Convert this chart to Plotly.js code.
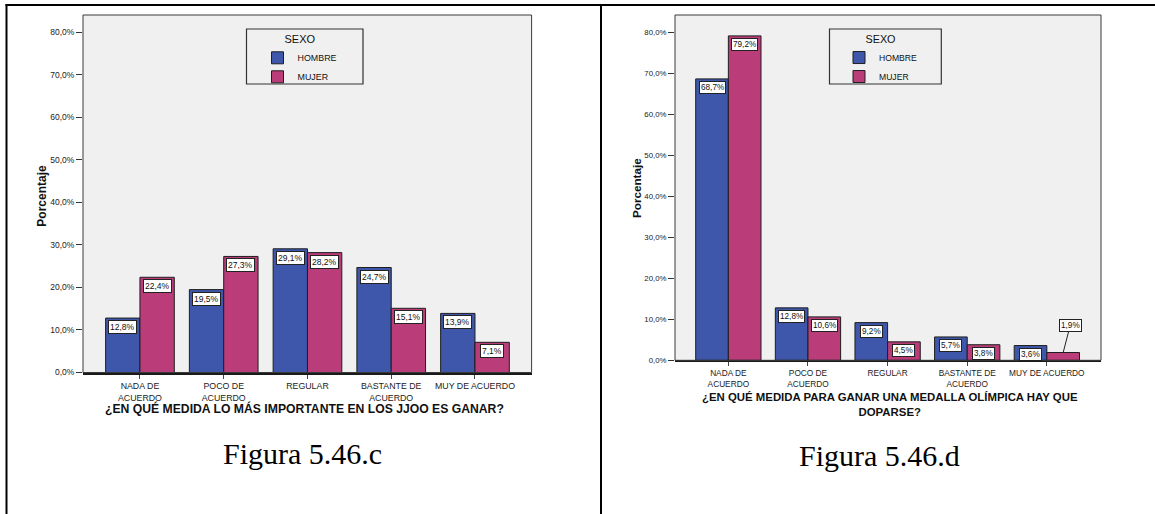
<!DOCTYPE html>
<html>
<head>
<meta charset="utf-8">
<script src="https://cdn.plot.ly/plotly-3.0.1.min.js"></script>
<style>
  html, body { margin: 0; padding: 0; background: #ffffff; }
  #chart { width: 1155px; height: 514px; }
</style>
</head>
<body>
<div id="chart"></div>
<script>
// ---- data ----
const categories = ['NADA DE ACUERDO', 'POCO DE ACUERDO', 'REGULAR', 'BASTANTE DE ACUERDO', 'MUY DE ACUERDO'];
const tickLabels = ['NADA DE<br>ACUERDO', 'POCO DE<br>ACUERDO', 'REGULAR', 'BASTANTE DE<br>ACUERDO', 'MUY DE ACUERDO'];
const seriesNames = ['HOMBRE', 'MUJER'];
const hombreC = [12.8, 19.5, 29.1, 24.7, 13.9];
const mujerC = [22.4, 27.3, 28.2, 15.1, 7.1];
const hombreD = [68.7, 12.8, 9.2, 5.7, 3.6];
const mujerD = [79.2, 10.6, 4.5, 3.8, 1.9];
const yTickVals = [0, 10, 20, 30, 40, 50, 60, 70, 80];
const legendTitle = 'SEXO';
const yTitle = 'Porcentaje';
const xTitleC = '¿EN QUÉ MEDIDA LO MÁS IMPORTANTE EN LOS JJOO ES GANAR?';
const xTitleD = '¿EN QUÉ MEDIDA PARA GANAR UNA MEDALLA OLÍMPICA HAY QUE<br>DOPARSE?';
const captionC = 'Figura 5.46.c';
const captionD = 'Figura 5.46.d';

// ---- styling ----
const W = 1155, H = 514;
const X = px => px / W;
const Y = py => 1 - py / H;
const colors = ['#3E57AB', '#BA3D7A'];
const FONT = 'Liberation Sans, Arial, sans-serif';
const pct = v => v.toFixed(1).replace('.', ',') + '%';
const BARGAP = 0.18;
const OFF = (1 - BARGAP) / 4;

function bars(vals, name, idx, xa, ya, legend) {
  return {
    type: 'bar', x: categories, y: vals, name: name,
    xaxis: xa, yaxis: ya, legend: legend,
    marker: { color: colors[idx], line: { color: '#1e1e1e', width: 1 } },
    hoverinfo: 'skip'
  };
}

const data = [
  bars(hombreC, seriesNames[0], 0, 'x', 'y', 'legend'),
  bars(mujerC, seriesNames[1], 1, 'x', 'y', 'legend'),
  bars(hombreD, seriesNames[0], 0, 'x2', 'y2', 'legend2'),
  bars(mujerD, seriesNames[1], 1, 'x2', 'y2', 'legend2')
];

function valueLabels(series, xr, yr, fs) {
  const out = [];
  series.forEach((vals, s) => {
    vals.forEach((v, i) => {
      const xpos = i + (s === 0 ? -OFF : OFF);
      const a = {
        xref: xr, yref: yr, x: xpos, y: v, text: pct(v), xanchor: 'center',
        font: { family: FONT, size: fs, color: '#111' },
        bgcolor: '#ffffff', bordercolor: '#222', borderwidth: 1, borderpad: 1
      };
      if (v < 2.5) {
        Object.assign(a, { showarrow: true, arrowhead: 0, arrowwidth: 1, arrowcolor: '#222', ax: 7, ay: -27 });
      } else {
        Object.assign(a, { showarrow: false, yanchor: 'top', yshift: -2 });
      }
      out.push(a);
    });
  });
  return out;
}

function txt(xpx, ypx, text, size, extra) {
  return Object.assign({
    xref: 'paper', yref: 'paper', x: X(xpx), y: Y(ypx), text: text, showarrow: false,
    xanchor: 'center', yanchor: 'middle',
    font: { family: FONT, size: size, weight: 'bold', color: '#111' }
  }, extra || {});
}

function yAxis(range, domain, anchor, fs) {
  return {
    domain: domain, anchor: anchor, range: range, fixedrange: true,
    tickvals: yTickVals, ticktext: yTickVals.map(pct),
    ticks: 'outside', ticklen: 6, tickcolor: '#333', tickwidth: 1,
    tickfont: { family: FONT, size: fs, color: '#222' },
    showgrid: false, zeroline: false, showline: false
  };
}
function xAxis(range, domain, anchor, fs) {
  return {
    domain: domain, anchor: anchor, range: range, type: 'category', fixedrange: true,
    tickvals: categories, ticktext: tickLabels,
    ticks: 'outside', ticklen: 4, tickcolor: '#444', tickwidth: 1,
    tickfont: { family: FONT, size: fs, color: '#222' },
    showgrid: false, zeroline: false, showline: true, linecolor: '#1a1a1a', linewidth: 2
  };
}

const serif = 'Liberation Serif, Times New Roman, serif';
const annotations = []
  .concat(valueLabels([hombreC, mujerC], 'x', 'y', 8.5))
  .concat(valueLabels([hombreD, mujerD], 'x2', 'y2', 8.2))
  .concat([
    txt(41.7, 196, yTitle, 12, { textangle: -90 }),
    txt(636, 188, yTitle, 11.7, { textangle: -90 }),
    txt(304, 408, xTitleC, 12.2),
    txt(890, 404.5, xTitleD, 11.4),
    txt(302.5, 453, captionC, 30, { font: { family: serif, size: 30, color: '#000' } }),
    txt(879.7, 455, captionD, 30, { font: { family: serif, size: 30, color: '#000' } })
  ]);

const shapes = [
  // plot frames
  { type: 'rect', xref: 'x domain', yref: 'y domain', x0: 0, x1: 1, y0: 0, y1: 1, line: { color: '#3a3a3a', width: 1 } },
  { type: 'rect', xref: 'x2 domain', yref: 'y2 domain', x0: 0, x1: 1, y0: 0, y1: 1, line: { color: '#3a3a3a', width: 1 } },
  // legend boxes
  { type: 'rect', xref: 'paper', yref: 'paper', x0: X(246.5), x1: X(363), y0: Y(84), y1: Y(29), line: { color: '#333', width: 1.2 } },
  { type: 'rect', xref: 'paper', yref: 'paper', x0: X(829.5), x1: X(941.3), y0: Y(84), y1: Y(29), line: { color: '#333', width: 1.2 } },
  // page table lines
  { type: 'line', xref: 'paper', yref: 'paper', x0: X(5.5), x1: 1, y0: Y(5), y1: Y(5), line: { color: '#000', width: 2 } },
  { type: 'line', xref: 'paper', yref: 'paper', x0: X(6.5), x1: X(6.5), y0: 0, y1: Y(4), line: { color: '#000', width: 2 } },
  { type: 'line', xref: 'paper', yref: 'paper', x0: X(601), x1: X(601), y0: 0, y1: Y(4), line: { color: '#000', width: 2 } }
];

const legendCommon = {
  xanchor: 'center', yanchor: 'top', orientation: 'v',
  bgcolor: 'rgba(0,0,0,0)', borderwidth: 0, tracegroupgap: 0, traceorder: 'normal'
};

const layout = {
  width: W, height: H,
  margin: { l: 0, r: 0, t: 0, b: 0 },
  paper_bgcolor: '#ffffff', plot_bgcolor: '#F0F0F0',
  barmode: 'group', bargap: BARGAP, bargroupgap: 0,
  font: { family: FONT, color: '#222' },
  xaxis: xAxis([-0.68, 4.676], [X(83), X(531.6)], 'y', 8.8),
  yaxis: yAxis([0, 84.1], [Y(372.5), Y(15)], 'x', 8.5),
  xaxis2: xAxis([-0.67, 4.68], [X(675), X(1101)], 'y2', 8.3),
  yaxis2: yAxis([0, 84.3], [Y(360.3), Y(15)], 'x2', 7.8),
  legend: Object.assign({}, legendCommon, {
    x: X(300), y: Y(29),
    font: { family: FONT, size: 8.9, color: '#111' },
    title: { text: legendTitle, side: 'top center', font: { family: FONT, size: 11, color: '#111' } }
  }),
  legend2: Object.assign({}, legendCommon, {
    x: X(880.5), y: Y(29),
    font: { family: FONT, size: 8.6, color: '#111' },
    title: { text: legendTitle, side: 'top center', font: { family: FONT, size: 10.8, color: '#111' } }
  }),
  annotations: annotations,
  shapes: shapes
};

Plotly.newPlot('chart', data, layout, { displayModeBar: false, responsive: false });
</script>
</body>
</html>
